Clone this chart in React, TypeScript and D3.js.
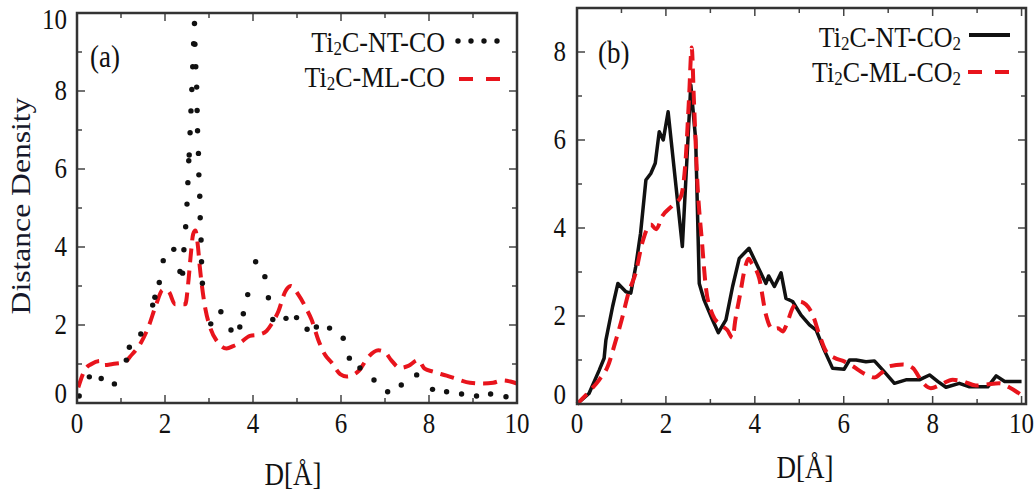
import React, { useRef, useEffect } from "react";
import * as d3 from "d3";

// panel (a): Ti2C-NT-CO (dots) and Ti2C-ML-CO (red dashes)
const ntCo: [number, number][] = [
  [0.05, 0.18], [0.28, 0.67], [0.55, 0.63], [0.85, 0.49], [1.12, 1.1], [1.19, 1.43],
  [1.45, 1.77], [1.72, 2.51], [1.77, 2.71], [1.87, 3.09], [1.96, 3.65], [2.2, 3.94],
  [2.34, 3.37], [2.4, 3.33], [2.43, 3.93], [2.47, 4.52], [2.5, 5.1], [2.52, 5.65],
  [2.54, 6.21], [2.55, 6.36], [2.57, 6.93], [2.59, 7.49], [2.61, 8.04], [2.63, 8.62],
  [2.65, 9.21], [2.67, 9.73], [2.68, 9.2], [2.7, 8.62], [2.72, 8.1], [2.73, 7.5],
  [2.74, 6.98], [2.76, 6.4], [2.77, 5.85], [2.79, 5.3], [2.8, 4.75], [2.82, 4.18],
  [2.83, 3.62], [2.85, 3.07], [3.04, 2.03], [3.27, 2.34], [3.5, 1.87], [3.7, 1.95],
  [3.78, 2.29], [3.88, 2.78], [4.06, 3.62], [4.27, 3.24], [4.35, 2.7], [4.45, 2.14],
  [4.75, 2.17], [4.99, 2.19], [5.23, 1.89], [5.44, 1.95], [5.74, 1.92], [6.05, 1.66],
  [6.19, 1.15], [6.43, 0.9], [6.75, 0.59], [7.06, 0.29], [7.37, 0.46], [7.72, 0.72],
  [8.08, 0.35], [8.4, 0.29], [8.74, 0.23], [9.08, 0.18], [9.4, 0.23], [9.75, 0.16],
];

const mlCo: [number, number][] = [
  [0.03, 0.4], [0.18, 0.85], [0.33, 1.0], [0.52, 1.08], [0.6, 0.97], [0.81, 1.0],
  [1.1, 1.05], [1.2, 1.18], [1.45, 1.54], [1.63, 1.97], [1.8, 2.53], [1.95, 2.9],
  [2.08, 2.86], [2.23, 2.53], [2.46, 2.53], [2.53, 3.1], [2.58, 3.73], [2.64, 4.33],
  [2.69, 4.42], [2.75, 4.0], [2.79, 3.5], [2.84, 3.0], [2.92, 2.4], [3.02, 1.96],
  [3.21, 1.54], [3.4, 1.4], [3.55, 1.46], [3.7, 1.54], [3.93, 1.72], [4.16, 1.76],
  [4.31, 1.85], [4.42, 2.02], [4.58, 2.36], [4.73, 2.85], [4.86, 3.0], [5.03, 2.78],
  [5.22, 2.4], [5.33, 2.14], [5.48, 1.63], [5.63, 1.25], [5.79, 1.03], [5.98, 0.74],
  [6.13, 0.68], [6.4, 0.82], [6.6, 1.15], [6.85, 1.35], [7.0, 1.3], [7.14, 1.1],
  [7.34, 0.9], [7.53, 0.95], [7.75, 1.1], [7.9, 0.88], [8.1, 0.8], [8.4, 0.7],
  [8.67, 0.6], [8.93, 0.52], [9.23, 0.5], [9.46, 0.52], [9.69, 0.58], [9.85, 0.55],
  [10.0, 0.5],
];

// panel (b): Ti2C-NT-CO2 (black line) and Ti2C-ML-CO2 (red dashes)
const ntCo2: [number, number][] = [
  [0.0, 0.0], [0.27, 0.24], [0.5, 0.77], [0.61, 1.04], [0.65, 1.45], [0.8, 2.21],
  [0.92, 2.74], [1.1, 2.55], [1.21, 2.52], [1.32, 3.12], [1.43, 3.88], [1.55, 5.09],
  [1.66, 5.24], [1.76, 5.47], [1.85, 6.19], [1.94, 6.0], [2.05, 6.64], [2.37, 3.58],
  [2.56, 7.25], [2.67, 6.0], [2.75, 2.74], [2.86, 2.36], [3.05, 1.91], [3.18, 1.62],
  [3.35, 1.91], [3.5, 2.67], [3.65, 3.31], [3.87, 3.54], [4.1, 3.05], [4.25, 2.74],
  [4.31, 2.91], [4.44, 2.67], [4.59, 2.98], [4.7, 2.4], [4.85, 2.33], [5.04, 2.02],
  [5.23, 1.8], [5.38, 1.68], [5.56, 1.23], [5.75, 0.81], [6.01, 0.79], [6.13, 1.0],
  [6.28, 1.0], [6.5, 0.96], [6.69, 0.98], [6.88, 0.77], [7.14, 0.47], [7.4, 0.55],
  [7.7, 0.55], [7.93, 0.66], [8.12, 0.51], [8.3, 0.38], [8.6, 0.47], [8.83, 0.39],
  [9.24, 0.39], [9.43, 0.64], [9.62, 0.51], [10.0, 0.51],
];

const mlCo2: [number, number][] = [
  [0.0, 0.0], [0.27, 0.28], [0.5, 0.55], [0.69, 0.85], [0.86, 1.4], [1.01, 1.93],
  [1.16, 2.53], [1.32, 2.98], [1.47, 3.67], [1.66, 4.08], [1.78, 3.97], [1.92, 4.27],
  [2.14, 4.5], [2.33, 4.7], [2.44, 5.5], [2.52, 6.95], [2.58, 8.1], [2.63, 6.9],
  [2.71, 5.0], [2.81, 3.7], [2.9, 2.64], [3.05, 2.03], [3.23, 1.8], [3.38, 1.68],
  [3.5, 1.5], [3.56, 1.9], [3.67, 2.5], [3.78, 3.1], [3.86, 3.3], [3.93, 3.2],
  [4.1, 2.85], [4.25, 2.03], [4.4, 1.7], [4.52, 1.72], [4.63, 1.65], [4.7, 1.77],
  [4.85, 2.18], [5.0, 2.33], [5.15, 2.26], [5.3, 2.03], [5.45, 1.58], [5.6, 1.2],
  [5.79, 1.05], [6.01, 0.97], [6.2, 0.86], [6.5, 0.67], [6.69, 0.6], [6.84, 0.7],
  [7.03, 0.86], [7.33, 0.9], [7.55, 0.82], [7.78, 0.48], [7.96, 0.36], [8.18, 0.44],
  [8.45, 0.55], [8.67, 0.52], [8.97, 0.42], [9.2, 0.44], [9.5, 0.47], [9.72, 0.38],
  [10.0, 0.2],
];

const xTicksA = [0, 2, 4, 6, 8, 10];
const yTicksA = [0, 2, 4, 6, 8, 10];
const xTicksB = [0, 2, 4, 6, 8, 10];
const yTicksB = [0, 2, 4, 6, 8];

const FONT = "'Liberation Serif', 'DejaVu Serif', serif";
const RED = "#e8141c";
const STRETCH = 1.15;

const App = () => {
  const svgRef = useRef<SVGSVGElement>(null);

  useEffect(() => {
    const svg = d3.select(svgRef.current);
    svg.selectAll("*").remove();

    // text that is a bit taller than wide, like the scanned figure
    const label = (x: number, y: number, txt: string, size: number, anchor: string) =>
      svg
        .append("g")
        .attr("transform", `translate(${x},${y}) scale(1,${STRETCH})`)
        .append("text")
        .attr("text-anchor", anchor)
        .attr("font-family", FONT)
        .attr("font-size", size)
        .attr("fill", "#111")
        .text(txt);

    const subLabel = (x: number, y: number, parts: [string, boolean][]) => {
      const t = svg
        .append("g")
        .attr("transform", `translate(${x},${y}) scale(1,${STRETCH})`)
        .append("text")
        .attr("text-anchor", "end")
        .attr("font-family", FONT)
        .attr("font-size", 26)
        .attr("fill", "#111");
      let low = false;
      parts.forEach(([s, sub]) => {
        const dy = sub && !low ? 3 : !sub && low ? -3 : 0;
        low = sub;
        t.append("tspan").attr("dy", dy).attr("font-size", sub ? 17 : 26).text(s);
      });
    };

    const drawPanel = (
      x: d3.ScaleLinear<number, number>,
      y: d3.ScaleLinear<number, number>,
      xTicks: number[],
      yTicks: number[],
      yLabelRight: number
    ) => {
      const [x0, x1] = x.range();
      const [y0, y1] = y.range();
      const g = svg.append("g");
      const xMinor = d3.range(Math.ceil(x.domain()[0]), Math.floor(x.domain()[1]) + 1);
      const yMinor = d3.range(Math.ceil(y.domain()[0]), Math.floor(y.domain()[1]) + 1);

      xMinor.forEach((v) => {
        const len = v % 2 === 0 ? 8 : 5;
        g.append("line").attr("x1", x(v)).attr("x2", x(v)).attr("y1", y0).attr("y2", y0 - len);
        g.append("line").attr("x1", x(v)).attr("x2", x(v)).attr("y1", y1).attr("y2", y1 + len);
      });
      yMinor.forEach((v) => {
        const len = v % 2 === 0 ? 8 : 5;
        g.append("line").attr("x1", x0).attr("x2", x0 + len).attr("y1", y(v)).attr("y2", y(v));
        g.append("line").attr("x1", x1).attr("x2", x1 - len).attr("y1", y(v)).attr("y2", y(v));
      });
      g.selectAll("line").attr("stroke", "#444").attr("stroke-width", 1.5);

      xTicks.forEach((v) => label(x(v), 433, String(v), 25, "middle"));
      // bottom label sits on the axis, top one is kept inside the page
      yTicks.forEach((v) => {
        const base = v === 0 ? y(v) : Math.max(y(v) + 9, 29);
        label(yLabelRight, base, String(v), 25, "end");
      });
    };

    const drawFrame = (x: d3.ScaleLinear<number, number>, y: d3.ScaleLinear<number, number>) => {
      const [x0, x1] = x.range();
      const [y0, y1] = y.range();
      svg
        .append("rect")
        .attr("x", x0)
        .attr("y", y1)
        .attr("width", x1 - x0)
        .attr("height", y0 - y1)
        .attr("fill", "none")
        .attr("stroke", "#333")
        .attr("stroke-width", 2.5);
    };

    // ---- panel (a)
    const xA = d3.scaleLinear().domain([0, 10]).range([77, 517]);
    const yA = d3.scaleLinear().domain([0, 10]).range([403, 13]);
    drawPanel(xA, yA, xTicksA, yTicksA, 67);

    svg
      .append("path")
      .datum(mlCo)
      .attr("fill", "none")
      .attr("stroke", RED)
      .attr("stroke-width", 4)
      .attr("stroke-dasharray", "14,8")
      .attr(
        "d",
        d3
          .line<[number, number]>()
          .x((d) => xA(d[0]))
          .y((d) => yA(d[1]))
          .curve(d3.curveMonotoneX)
      );

    svg
      .append("g")
      .selectAll("circle")
      .data(ntCo)
      .join("circle")
      .attr("cx", (d) => xA(d[0]))
      .attr("cy", (d) => yA(d[1]))
      .attr("r", 2.7)
      .attr("fill", "#111");

    drawFrame(xA, yA);

    label(90, 67, "(a)", 27, "start");
    subLabel(445, 52, [["Ti", false], ["2", true], ["C-NT-CO", false]]);
    subLabel(445, 87, [["Ti", false], ["2", true], ["C-ML-CO", false]]);
    [458, 471, 484, 497].forEach((cx) =>
      svg.append("circle").attr("cx", cx).attr("cy", 41).attr("r", 2.7).attr("fill", "#111")
    );
    svg
      .append("line")
      .attr("x1", 459)
      .attr("x2", 500)
      .attr("y1", 79)
      .attr("y2", 79)
      .attr("stroke", RED)
      .attr("stroke-width", 4)
      .attr("stroke-dasharray", "14,13");

    label(293, 485, "D[Å]", 27, "middle");

    svg
      .append("g")
      .attr("transform", `translate(30,206) scale(1,${STRETCH}) rotate(-90)`)
      .append("text")
      .attr("text-anchor", "middle")
      .attr("font-family", FONT)
      .attr("font-size", 27.5)
      .attr("fill", "#16182a")
      .text("Distance Density");

    // ---- panel (b)
    const xB = d3.scaleLinear().domain([0, 10.1]).range([577, 1026]);
    const yB = d3.scaleLinear().domain([0, 9]).range([404, 8]);
    drawPanel(xB, yB, xTicksB, yTicksB, 566);

    svg
      .append("path")
      .datum(ntCo2)
      .attr("fill", "none")
      .attr("stroke", "#111")
      .attr("stroke-width", 3.5)
      .attr("stroke-linejoin", "round")
      .attr(
        "d",
        d3
          .line<[number, number]>()
          .x((d) => xB(d[0]))
          .y((d) => yB(d[1]))
      );

    svg
      .append("path")
      .datum(mlCo2)
      .attr("fill", "none")
      .attr("stroke", RED)
      .attr("stroke-width", 4)
      .attr("stroke-dasharray", "14,8")
      .attr(
        "d",
        d3
          .line<[number, number]>()
          .x((d) => xB(d[0]))
          .y((d) => yB(d[1]))
          .curve(d3.curveMonotoneX)
      );

    drawFrame(xB, yB);

    label(598, 63, "(b)", 27, "start");
    subLabel(961, 47, [["Ti", false], ["2", true], ["C-NT-CO", false], ["2", true]]);
    subLabel(961, 82, [["Ti", false], ["2", true], ["C-ML-CO", false], ["2", true]]);
    svg
      .append("line")
      .attr("x1", 969)
      .attr("x2", 1010)
      .attr("y1", 35)
      .attr("y2", 35)
      .attr("stroke", "#111")
      .attr("stroke-width", 4);
    svg
      .append("line")
      .attr("x1", 968)
      .attr("x2", 1009)
      .attr("y1", 72)
      .attr("y2", 72)
      .attr("stroke", RED)
      .attr("stroke-width", 4)
      .attr("stroke-dasharray", "14,13");

    label(805, 478, "D[Å]", 27, "middle");
  }, []);

  return (
    <svg
      ref={svgRef}
      width={1035}
      height={494}
      style={{ position: "absolute", left: 0, top: 0, background: "#fff" }}
    ></svg>
  );
};

export default App;
